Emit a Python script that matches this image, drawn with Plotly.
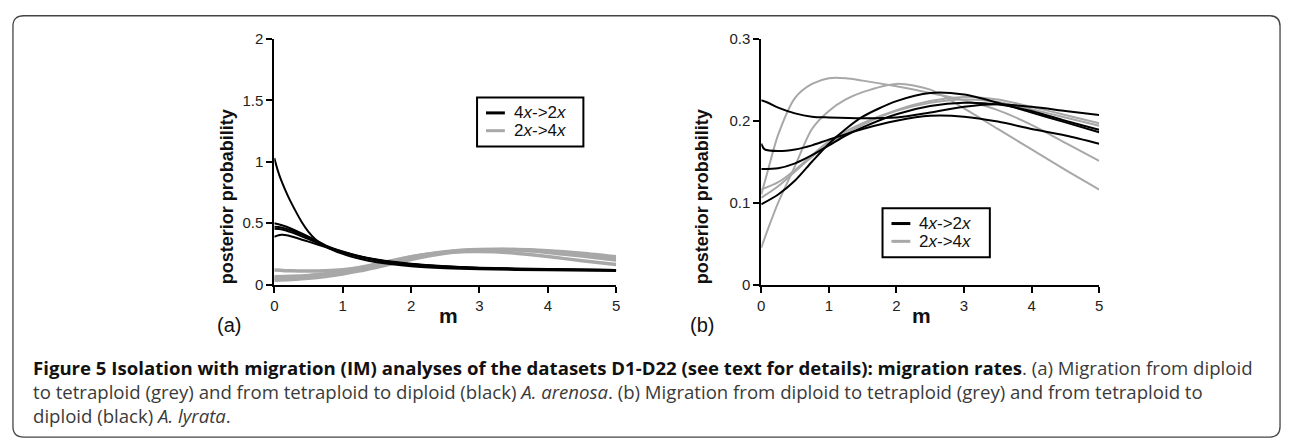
import plotly.graph_objects as go

W, H = 1290, 448

# ---------------- data: panel (a) A. arenosa ----------------
a_black_m = [
    [0, 0.05, 0.1, 0.2, 0.3, 0.4, 0.5, 0.6, 0.75, 1.0, 1.25, 1.5, 2.0, 2.5, 3.0, 4.0, 5.0],
    [0, 0.1, 0.25, 0.5, 0.75, 1.0, 1.25, 1.5, 2.0, 2.5, 3.0, 4.0, 5.0],
    [0, 0.1, 0.25, 0.5, 0.75, 1.0, 1.5, 2.0, 3.0, 4.0, 5.0],
    [0, 0.1, 0.25, 0.5, 0.75, 1.0, 1.5, 2.0, 3.0, 4.0, 5.0],
    [0, 0.1, 0.2, 0.35, 0.5, 0.75, 1.0, 1.5, 2.0, 3.0, 4.0, 5.0],
]
a_black_p = [
    [1.03, 0.93, 0.85, 0.72, 0.61, 0.51, 0.43, 0.37, 0.31, 0.25, 0.21, 0.182, 0.15, 0.134, 0.125, 0.116, 0.111],
    [0.50, 0.485, 0.455, 0.39, 0.32, 0.27, 0.232, 0.205, 0.17, 0.15, 0.138, 0.127, 0.12],
    [0.47, 0.465, 0.44, 0.38, 0.315, 0.265, 0.2, 0.165, 0.135, 0.124, 0.118],
    [0.455, 0.45, 0.425, 0.37, 0.31, 0.26, 0.195, 0.16, 0.132, 0.122, 0.116],
    [0.39, 0.405, 0.40, 0.375, 0.35, 0.305, 0.262, 0.2, 0.165, 0.135, 0.125, 0.12],
]
a_grey_m = [0, 0.25, 0.5, 0.75, 1.0, 1.25, 1.5, 2.0, 2.5, 3.0, 3.5, 4.0, 4.5, 5.0]
a_grey_p = [
    [0.12, 0.112, 0.11, 0.113, 0.122, 0.14, 0.168, 0.228, 0.263, 0.27, 0.258, 0.228, 0.195, 0.163],
    [0.065, 0.068, 0.075, 0.088, 0.105, 0.13, 0.16, 0.225, 0.268, 0.285, 0.283, 0.262, 0.232, 0.20],
    [0.05, 0.055, 0.063, 0.077, 0.096, 0.12, 0.15, 0.215, 0.262, 0.283, 0.286, 0.27, 0.245, 0.213],
    [0.035, 0.042, 0.052, 0.067, 0.087, 0.112, 0.142, 0.205, 0.255, 0.28, 0.286, 0.276, 0.255, 0.226],
]

# ---------------- data: panel (b) A. lyrata ----------------
b_black_m = [
    [0, 0.1, 0.25, 0.5, 0.75, 1.0, 1.5, 2.0, 2.5, 3.0, 3.5, 4.0, 4.5, 5.0],
    [0, 0.05, 0.25, 0.5, 0.75, 1.0, 1.5, 2.0, 2.5, 3.0, 3.5, 4.0, 4.5, 5.0],
    [0, 0.25, 0.5, 0.75, 1.0, 1.25, 1.5, 2.0, 2.5, 3.0, 3.5, 4.0, 4.5, 5.0],
    [0, 0.25, 0.5, 0.75, 1.0, 1.25, 1.5, 2.0, 2.5, 3.0, 3.5, 4.0, 4.5, 5.0],
]
b_black_p = [
    [0.225, 0.222, 0.216, 0.209, 0.205, 0.204, 0.203, 0.204, 0.21, 0.217, 0.22, 0.217, 0.212, 0.207],
    [0.172, 0.165, 0.163, 0.165, 0.17, 0.177, 0.19, 0.2, 0.206, 0.205, 0.199, 0.19, 0.182, 0.172],
    [0.141, 0.142, 0.148, 0.158, 0.17, 0.182, 0.192, 0.208, 0.218, 0.222, 0.22, 0.212, 0.2, 0.189],
    [0.098, 0.11, 0.127, 0.15, 0.172, 0.19, 0.205, 0.224, 0.234, 0.232, 0.222, 0.21, 0.198, 0.186],
]
b_grey_m = [
    [0, 0.1, 0.25, 0.5, 0.75, 1.0, 1.25, 1.5, 2.0, 2.5, 3.0, 3.5, 4.0, 4.5, 5.0],
    [0, 0.1, 0.25, 0.5, 0.75, 1.0, 1.25, 1.5, 2.0, 2.5, 3.0, 3.5, 4.0, 4.5, 5.0],
    [0, 0.25, 0.5, 0.75, 1.0, 1.5, 2.0, 2.5, 3.0, 3.5, 4.0, 4.5, 5.0],
    [0, 0.25, 0.5, 0.75, 1.0, 1.5, 2.0, 2.5, 3.0, 3.5, 4.0, 4.5, 5.0],
]
b_grey_p = [
    [0.11, 0.14, 0.183, 0.228, 0.245, 0.252, 0.252, 0.249, 0.242, 0.234, 0.225, 0.213, 0.195, 0.173, 0.151],
    [0.045, 0.068, 0.10, 0.145, 0.19, 0.212, 0.226, 0.235, 0.245, 0.238, 0.215, 0.19, 0.165, 0.14, 0.116],
    [0.116, 0.125, 0.14, 0.158, 0.175, 0.197, 0.213, 0.224, 0.229, 0.226, 0.217, 0.207, 0.197],
    [0.106, 0.12, 0.138, 0.156, 0.172, 0.195, 0.212, 0.222, 0.226, 0.223, 0.214, 0.204, 0.194],
]

series_names = ["4<i>x</i>-&gt;2<i>x</i>", "2<i>x</i>-&gt;4<i>x</i>"]
x_ticks = [0, 1, 2, 3, 4, 5]
a_y_ticks = [0, 0.5, 1, 1.5, 2]
a_y_labels = ["0", "0.5", "1", "1.5", "2"]
b_y_ticks = [0, 0.1, 0.2, 0.3]
b_y_labels = ["0", "0.1", "0.2", "0.3"]

BLACK = "#000000"
GREY = "#a8a8a8"
FONT = "Liberation Sans, Arial, sans-serif"
CAP = "Open Sans, Noto Sans, sans-serif"

fig = go.Figure()

def add_lines(ms, ps, color, width, xa, ya, name):
    for m, p in zip(ms, ps):
        fig.add_trace(go.Scatter(
            x=m, y=p, mode="lines", xaxis=xa, yaxis=ya, name=name,
            line=dict(color=color, width=width, shape="spline", smoothing=0.8),
            showlegend=False, hoverinfo="skip"))

add_lines([a_grey_m] * len(a_grey_p), a_grey_p, GREY, 3.5, "x", "y", series_names[1])
add_lines(a_black_m, a_black_p, BLACK, 2, "x", "y", series_names[0])
add_lines(b_grey_m, b_grey_p, GREY, 2, "x2", "y2", series_names[1])
add_lines(b_black_m, b_black_p, BLACK, 2, "x2", "y2", series_names[0])

def px_x(v):
    return v / W

def px_y(v):
    return 1 - v / H

ydom = [px_y(286.5), px_y(31)]
axis_common = dict(showline=True, linecolor="black", linewidth=2, ticks="outside",
                   ticklen=6, tickwidth=1.5, tickcolor="black", showgrid=False,
                   zeroline=False, tickfont=dict(family=FONT, size=15, color="#222"))

fig.update_layout(
    width=W, height=H, margin=dict(l=0, r=0, t=0, b=0),
    paper_bgcolor="white", plot_bgcolor="white", showlegend=False,
    xaxis=dict(domain=[px_x(272), px_x(616)], range=[0, 5], tickvals=x_ticks,
               anchor="y", **axis_common),
    yaxis=dict(domain=ydom, range=[0, 2], tickvals=a_y_ticks, ticktext=a_y_labels,
               anchor="x", **axis_common),
    xaxis2=dict(domain=[px_x(762), px_x(1102)], range=[0, 5], tickvals=x_ticks,
                anchor="y2", **axis_common),
    yaxis2=dict(domain=ydom, range=[0, 0.3], tickvals=b_y_ticks, ticktext=b_y_labels,
                anchor="x2", **axis_common),
    font=dict(family=FONT),
)

ann = []
shapes = []
for cx in (212, 702):
    ann.append(dict(x=px_x(cx), y=px_y(195), xref="paper", yref="paper",
                    text="<b>posterior probability</b>", textangle=-90, showarrow=False,
                    font=dict(family=FONT, size=18, color="#111")))
for cx in (447, 935):
    ann.append(dict(x=px_x(cx), y=px_y(333), xref="paper", yref="paper",
                    text="<b>m</b>", showarrow=False,
                    font=dict(family=FONT, size=21, color="#111")))
for cx, t in ((212, "(a)"), (702, "(b)")):
    ann.append(dict(x=px_x(cx), y=px_y(342), xref="paper", yref="paper",
                    text=t, showarrow=False,
                    font=dict(family=FONT, size=20, color="#111")))

# legends (boxes drawn as shapes, labels as text)
for (bx0, by0, bx1, by1) in ((476, 92, 583, 143), (884, 207, 992, 258)):
    shapes.append(dict(type="rect", xref="paper", yref="paper",
                       x0=px_x(bx0), x1=px_x(bx1), y0=px_y(by1), y1=px_y(by0),
                       line=dict(color="black", width=2), fillcolor="white", layer="above"))
    rows = [(by0 + 16, BLACK, series_names[0]), (by0 + 34.5, GREY, series_names[1])]
    for ry, col, nm in rows:
        shapes.append(dict(type="line", xref="paper", yref="paper",
                           x0=px_x(bx0 + 9), x1=px_x(bx0 + 28), y0=px_y(ry), y1=px_y(ry),
                           line=dict(color=col, width=3), layer="above"))
        ann.append(dict(x=px_x(bx0 + 35), y=px_y(ry), xref="paper", yref="paper",
                        xanchor="left", yanchor="middle", text=nm, showarrow=False,
                        font=dict(family=FONT, size=17, color="#111")))

cap_lines = [
    "<span style='color:#111'><b>Figure 5 Isolation with migration (IM) analyses of the datasets D1-D22 (see text for details): migration rates</b></span>. (a) Migration from diploid",
    "to tetraploid (grey) and from tetraploid to diploid (black) <i>A. arenosa</i>. (b) Migration from diploid to tetraploid (grey) and from tetraploid to",
    "diploid (black) <i>A. lyrata</i>.",
]
ann.append(dict(x=px_x(27), y=px_y(398), xref="paper", yref="paper",
                xanchor="left", yanchor="middle", align="left",
                text="<br>".join(cap_lines), showarrow=False,
                font=dict(family=CAP, size=18.6, color="#3a3a3a")))

# rounded border of the figure panel
x0, x1, y0, y1, r = 9, 1284, 7, 445, 11
def P(x, y):
    return f"{px_x(x):.5f},{px_y(y):.5f}"
path = (f"M{P(x0 + r, y0)} L{P(x1 - r, y0)} Q{P(x1, y0)} {P(x1, y0 + r)} "
        f"L{P(x1, y1 - r)} Q{P(x1, y1)} {P(x1 - r, y1)} L{P(x0 + r, y1)} "
        f"Q{P(x0, y1)} {P(x0, y1 - r)} L{P(x0, y0 + r)} Q{P(x0, y0)} {P(x0 + r, y0)} Z")
shapes.append(dict(type="path", path=path, xref="paper", yref="paper",
                   line=dict(color="#444", width=1.3), layer="below"))

fig.update_layout(annotations=ann, shapes=shapes)
fig.write_html("out.html")
